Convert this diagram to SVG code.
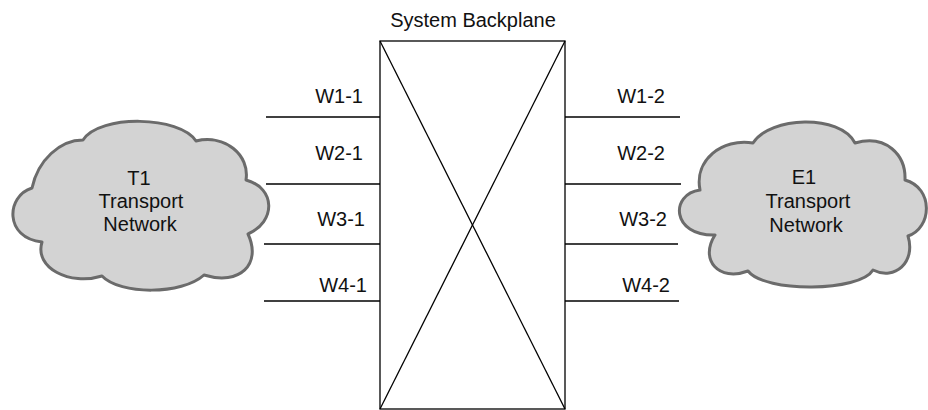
<svg xmlns="http://www.w3.org/2000/svg" width="928" height="410" viewBox="0 0 928 410">
  <style>
    text { font-family: "Liberation Sans", Arial, sans-serif; font-size: 20px; fill: #111; }
    .cloud { fill: #d3d3d3; stroke: #6b6b6b; stroke-width: 3; stroke-linejoin: round; }
    .wire { stroke: #000; stroke-width: 1.3; fill: none; }
    .frame { stroke: #000; stroke-width: 1.3; fill: #fff; }
    .lbl-l { text-anchor: end; }
    .lbl-c { text-anchor: middle; }
  </style>

  <!-- Left network cloud -->
  <g id="t1-network">
    <path class="cloud" d="M 83,140
      C 60,140 38,160 32,188
      C 6,196 4,238 42,242
      C 34,268 70,286 102,276
      C 120,295 182,295 204,275
      C 240,286 262,264 248,234
      C 276,222 276,188 246,180
      C 250,155 225,134 196,141
      C 180,116 100,114 83,140 Z"/>
    <text class="lbl-c" x="139" y="185">T1</text>
    <text class="lbl-c" x="141" y="208">Transport</text>
    <text class="lbl-c" x="140" y="231">Network</text>
  </g>

  <!-- Right network cloud -->
  <g id="e1-network">
    <path class="cloud" d="M 753,143
      C 770,116 840,114 855,143
      C 886,134 906,155 905,180
      C 934,188 932,228 908,236
      C 916,262 895,281 873,270
      C 860,292 765,293 748,271
      C 719,282 699,260 715,235
      C 671,236 670,194 700,190
      C 694,160 722,138 753,143 Z"/>
    <text class="lbl-c" x="804" y="184">E1</text>
    <text class="lbl-c" x="808" y="208">Transport</text>
    <text class="lbl-c" x="806" y="232">Network</text>
  </g>

  <!-- Backplane cross-connect -->
  <g id="backplane">
    <text class="lbl-c" x="473" y="27">System Backplane</text>
    <rect class="frame" x="380" y="41" width="185" height="368"/>
    <line class="wire" x1="380" y1="41" x2="565" y2="409"/>
    <line class="wire" x1="565" y1="41" x2="380" y2="409"/>
  </g>

  <!-- Port wires -->
  <g id="connectors">
    <line class="wire" x1="266" y1="117" x2="380" y2="117"/>
    <line class="wire" x1="266" y1="184" x2="380" y2="184"/>
    <line class="wire" x1="264" y1="244" x2="380" y2="244"/>
    <line class="wire" x1="264" y1="301" x2="380" y2="301"/>
    <line class="wire" x1="565" y1="117" x2="680" y2="117"/>
    <line class="wire" x1="565" y1="184" x2="681" y2="184"/>
    <line class="wire" x1="565" y1="244" x2="678" y2="244"/>
    <line class="wire" x1="565" y1="301" x2="679" y2="301"/>
  </g>

  <!-- Port labels -->
  <g id="port-labels">
    <text class="lbl-l" x="363" y="103">W1-1</text>
    <text class="lbl-l" x="363" y="160">W2-1</text>
    <text class="lbl-l" x="365" y="226">W3-1</text>
    <text class="lbl-l" x="367" y="292">W4-1</text>
    <text class="lbl-l" x="665" y="103">W1-2</text>
    <text class="lbl-l" x="665" y="160">W2-2</text>
    <text class="lbl-l" x="667" y="226">W3-2</text>
    <text class="lbl-l" x="670" y="292">W4-2</text>
  </g>
</svg>
